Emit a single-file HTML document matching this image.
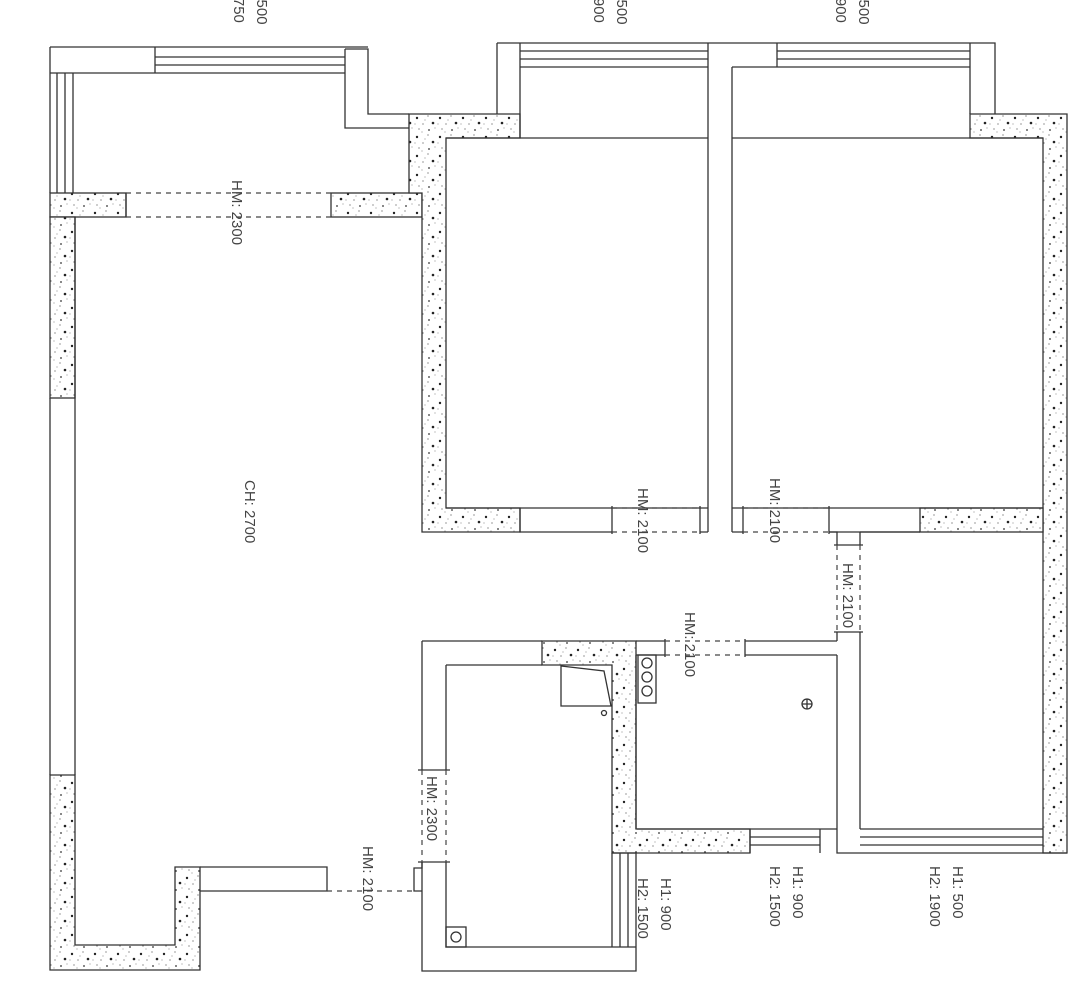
<!DOCTYPE html>
<html><head><meta charset="utf-8"><style>
html,body{margin:0;padding:0;background:#fff;}
svg{display:block;}
text{font-family:"Liberation Sans",sans-serif;font-size:15px;fill:#444;}
</style></head><body>
<svg width="1089" height="1004" viewBox="0 0 1089 1004" xmlns="http://www.w3.org/2000/svg">
<defs>
<pattern id="h" width="23" height="19" patternUnits="userSpaceOnUse">
<rect width="23" height="19" fill="#fff"/>
<circle cx="3" cy="4" r="1.2" fill="#222"/><circle cx="14" cy="2" r="0.6" fill="#555"/>
<circle cx="9" cy="10" r="0.6" fill="#555"/><circle cx="19" cy="9" r="1.3" fill="#222"/>
<circle cx="5" cy="15" r="0.6" fill="#555"/><circle cx="15" cy="16" r="0.9" fill="#333"/>
<circle cx="21" cy="14" r="0.5" fill="#666"/><circle cx="11" cy="6" r="0.5" fill="#666"/>
<circle cx="1" cy="10" r="0.5" fill="#666"/><circle cx="8" cy="18" r="0.5" fill="#666"/>
</pattern>
</defs>
<g stroke="#333" stroke-width="1.3" fill="none">
<g fill="url(#h)">
<rect x="50" y="193" width="76" height="24"/>
<rect x="50" y="217" width="25" height="181"/>
<rect x="331" y="193" width="91" height="24"/>
<path d="M409 114 H520 V138 H446 V508 H520 V532 H422 V193 H409 Z"/>
<path d="M970 114 H1067 V853 H1043 V138 H970 Z"/>
<rect x="920" y="508" width="123" height="24"/>
<path d="M50 775 H75 V945 H175 V867 H200 V970 H50 Z"/>
<path d="M542 641 H636 V829 H750 V853 H612 V665 H542 Z"/>
</g>
<path d="M50 47 H368 M50 47 V193 M155 47 V73 M155 57 H345 M155 65 H345 M73 73 H345 M57 73 V193 M65 73 V193 M73 73 V193 M50 73 H155"/>
<path d="M345 49 H368 V114 H409 M345 49 V128 H409"/>
<path d="M50 398 V775 M75 398 V775 M75 217 V398 M126 193 V217"/>
<path d="M200 867 H327 V891 H200"/>
<path d="M497 43 H995 V114 M497 43 V114 M520 43 V138 M520 51 H708 M520 59 H708 M520 67 H708 M777 51 H970 M777 59 H970 M777 67 H970 M970 43 V114 M732 67 H777 V43"/>
<path d="M708 43 V532 M732 67 V532"/>
<path d="M446 138 H708 M732 138 H1043"/>
<path d="M446 508 H708 M732 508 H1043"/>
<path d="M520 508 V532 H612 M612 506 V534 M700 506 V534 M700 532 H708 M732 532 H743 M743 506 V534 M829 506 V534 M829 508 V532 H920"/>
<path d="M829 532 H837 V545 M860 532 H920 M860 532 V545 M834 545 H863 M834 632 H863 M837 632 V641 M860 632 V829 M837 655 V853 H860"/>
<path d="M636 641 H665 V655 H636 M665 639 V657 M745 639 V657 M745 641 H837 M745 655 H837 M636 655 V829 M637 829 H837 M750 829 V853 M750 837 H820 M750 845 H820 M820 829 V853 M860 837 H1043 M860 845 H1043 M860 853 H1067 M860 829 H1043"/>
<path d="M422 641 H542 M446 665 H542 M422 641 V770 M446 665 V770 M418 770 H450 M418 862 H450 M422 862 V971 H636 V853 M446 862 V947 H636 M612 853 V947 M620 853 V947 M628 853 V947 M612 853 H636"/>
<path d="M422 862 V868 H414 V891 H422"/>
<rect x="446" y="927" width="20" height="20"/><circle cx="456" cy="937" r="5"/>
<rect x="638" y="655" width="18" height="48"/><circle cx="647" cy="663" r="5"/><circle cx="647" cy="677" r="5"/><circle cx="647" cy="691" r="5"/>
<circle cx="807" cy="704" r="5"/><path d="M802 704 H812 M807 699 V709"/>
<path d="M561 666 L604 671 L611 706 H561 Z"/><circle cx="604" cy="713" r="2.5"/>
</g>
<g stroke="#444" stroke-width="1.2" stroke-dasharray="5,5" fill="none">
<path d="M126 193 H331 M126 217 H331"/>
<path d="M612 508 H700 M612 532 H700 M743 508 H829 M743 532 H829"/>
<path d="M837 545 V632 M860 545 V632"/>
<path d="M665 641 H745 M665 655 H745"/>
<path d="M422 770 V862 M446 770 V862"/>
<path d="M327 891 H414"/>
</g>
<g>
<text transform="translate(232,180) rotate(90)">HM: 2300</text>
<text transform="translate(245,480) rotate(90)">CH: 2700</text>
<text transform="translate(638,488) rotate(90)">HM: 2100</text>
<text transform="translate(770,478) rotate(90)">HM: 2100</text>
<text transform="translate(843,563) rotate(90)">HM: 2100</text>
<text transform="translate(685,612) rotate(90)">HM: 2100</text>
<text transform="translate(427,776) rotate(90)">HM: 2300</text>
<text transform="translate(363,846) rotate(90)">HM: 2100</text>
<text transform="translate(661,878) rotate(90)">H1: 900</text>
<text transform="translate(638,878) rotate(90)">H2: 1500</text>
<text transform="translate(793,866) rotate(90)">H1: 900</text>
<text transform="translate(770,866) rotate(90)">H2: 1500</text>
<text transform="translate(953,866) rotate(90)">H1: 500</text>
<text transform="translate(930,866) rotate(90)">H2: 1900</text>
<text transform="translate(257,-28) rotate(90)">H1: 500</text>
<text transform="translate(234,-38) rotate(90)">H2: 1750</text>
<text transform="translate(617,-28) rotate(90)">H1: 500</text>
<text transform="translate(594,-38) rotate(90)">H2: 1900</text>
<text transform="translate(859,-28) rotate(90)">H1: 500</text>
<text transform="translate(836,-38) rotate(90)">H2: 1900</text>
</g>
</svg>
</body></html>
